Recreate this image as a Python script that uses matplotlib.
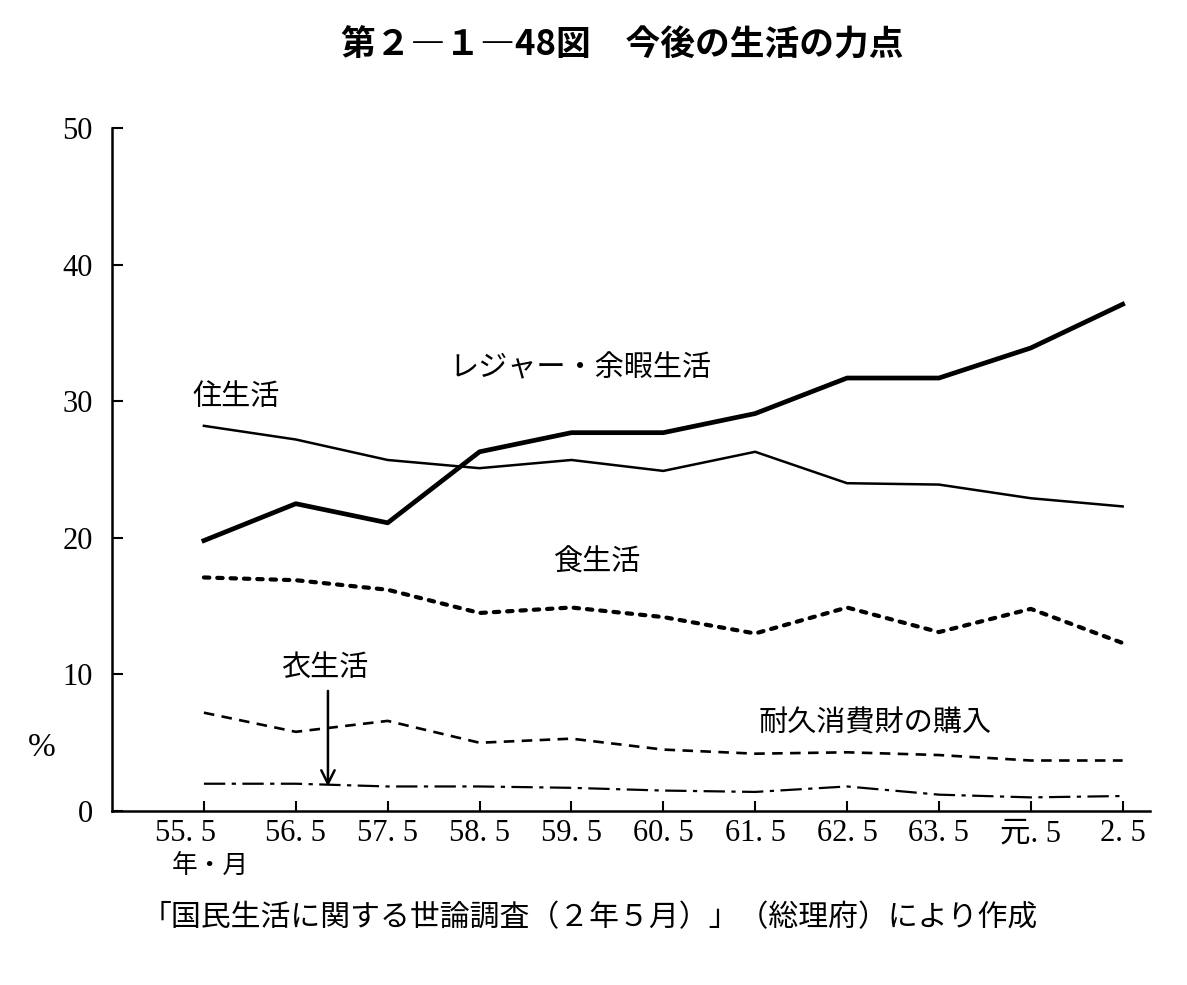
import matplotlib
matplotlib.use('Agg')
import matplotlib.pyplot as plt
import matplotlib.transforms as mtransforms

plt.rcParams['font.family'] = ['Noto Sans CJK JP', 'DejaVu Sans']

periods = ['55. 5', '56. 5', '57. 5', '58. 5', '59. 5', '60. 5',
           '61. 5', '62. 5', '63. 5', '元. 5', '2. 5']
leisure = [19.8, 22.5, 21.1, 26.3, 27.7, 27.7, 29.1, 31.7, 31.7, 33.9, 37.1]
housing = [28.2, 27.2, 25.7, 25.1, 25.7, 24.9, 26.3, 24.0, 23.9, 22.9, 22.3]
food = [17.1, 16.9, 16.2, 14.5, 14.9, 14.2, 13.0, 14.9, 13.1, 14.8, 12.3]
durables = [7.2, 5.8, 6.6, 5.0, 5.3, 4.5, 4.2, 4.3, 4.1, 3.7, 3.7]
clothing = [2.0, 2.0, 1.8, 1.8, 1.7, 1.5, 1.4, 1.8, 1.2, 1.0, 1.1]

x = list(range(len(periods)))

fig = plt.figure(figsize=(11.87, 9.85), dpi=100)
ax = fig.add_axes([0.0944, 0.1766, 0.8746, 0.6934])

ax.plot(x, leisure, color='black', linewidth=3.4, solid_joinstyle='round')
ax.plot(x, housing, color='black', linewidth=1.8)
ax.plot(x, food, color='black', linewidth=3.0, linestyle=(0, (1.3, 1.9)),
        dash_capstyle='round')
ax.plot(x, durables, color='black', linewidth=1.9, linestyle=(0, (4, 2.8)))
ax.plot(x, clothing, color='black', linewidth=1.6,
        linestyle=(0, (9.6, 2.9, 1.9, 2.9)))

ax.set_xlim(-1.0, 10.3)
ax.set_ylim(0, 50)
ax.set_yticks([0, 10, 20, 30, 40, 50])
ax.set_xticks(x)
ax.set_xticklabels(periods)

for side in ['top', 'right']:
    ax.spines[side].set_visible(False)
for side in ['left', 'bottom']:
    ax.spines[side].set_linewidth(1.8)

ax.tick_params(axis='y', direction='in', length=8, width=1.5, pad=14,
               labelsize=22)
ax.tick_params(axis='x', direction='in', length=7, width=1.5, pad=6,
               labelsize=22)
for lab in ax.get_yticklabels():
    lab.set_fontfamily(['Liberation Serif', 'DejaVu Serif'])
for lab in ax.get_xticklabels():
    lab.set_fontfamily(['Liberation Serif', 'Noto Sans CJK JP'])
# first label sits a little left of its tick, as in the original
first = ax.get_xticklabels()[0]
first.set_transform(first.get_transform() +
                    mtransforms.ScaledTranslation(-0.18, 0, fig.dpi_scale_trans))

# series labels
lab_kw = dict(fontsize=21, ha='center', va='center')
ax.text(0.35, 30.3, '住生活', **lab_kw)
ax.text(4.10, 32.4, 'レジャー・余暇生活', **lab_kw)
ax.text(4.29, 18.2, '食生活', **lab_kw)
ax.text(1.31, 10.5, '衣生活', **lab_kw)
ax.text(7.31, 6.4, '耐久消費財の購入', **lab_kw)
ax.annotate('', xy=(1.35, 1.6), xytext=(1.35, 9.0),
            arrowprops=dict(arrowstyle='->', color='black', lw=1.8,
                            mutation_scale=24))

fig.text(42 / 1187, 1 - 748 / 985, '%', fontsize=24, ha='center',
         va='center', family=['Liberation Serif', 'DejaVu Sans'])
fig.text(210 / 1187, 1 - 866 / 985, '年・月', fontsize=18.5, ha='center',
         va='center')
fig.text(622 / 1187, 1 - 45 / 985, '第２―１―48図　今後の生活の力点',
         fontsize=25, fontweight='bold', ha='center', va='center')
fig.text(142 / 1187, 1 - 918 / 985,
         '「国民生活に関する世論調査（２年５月）」（総理府）により作成',
         fontsize=21.5, ha='left', va='center')

fig.savefig('out.png', dpi=100, facecolor='white')
